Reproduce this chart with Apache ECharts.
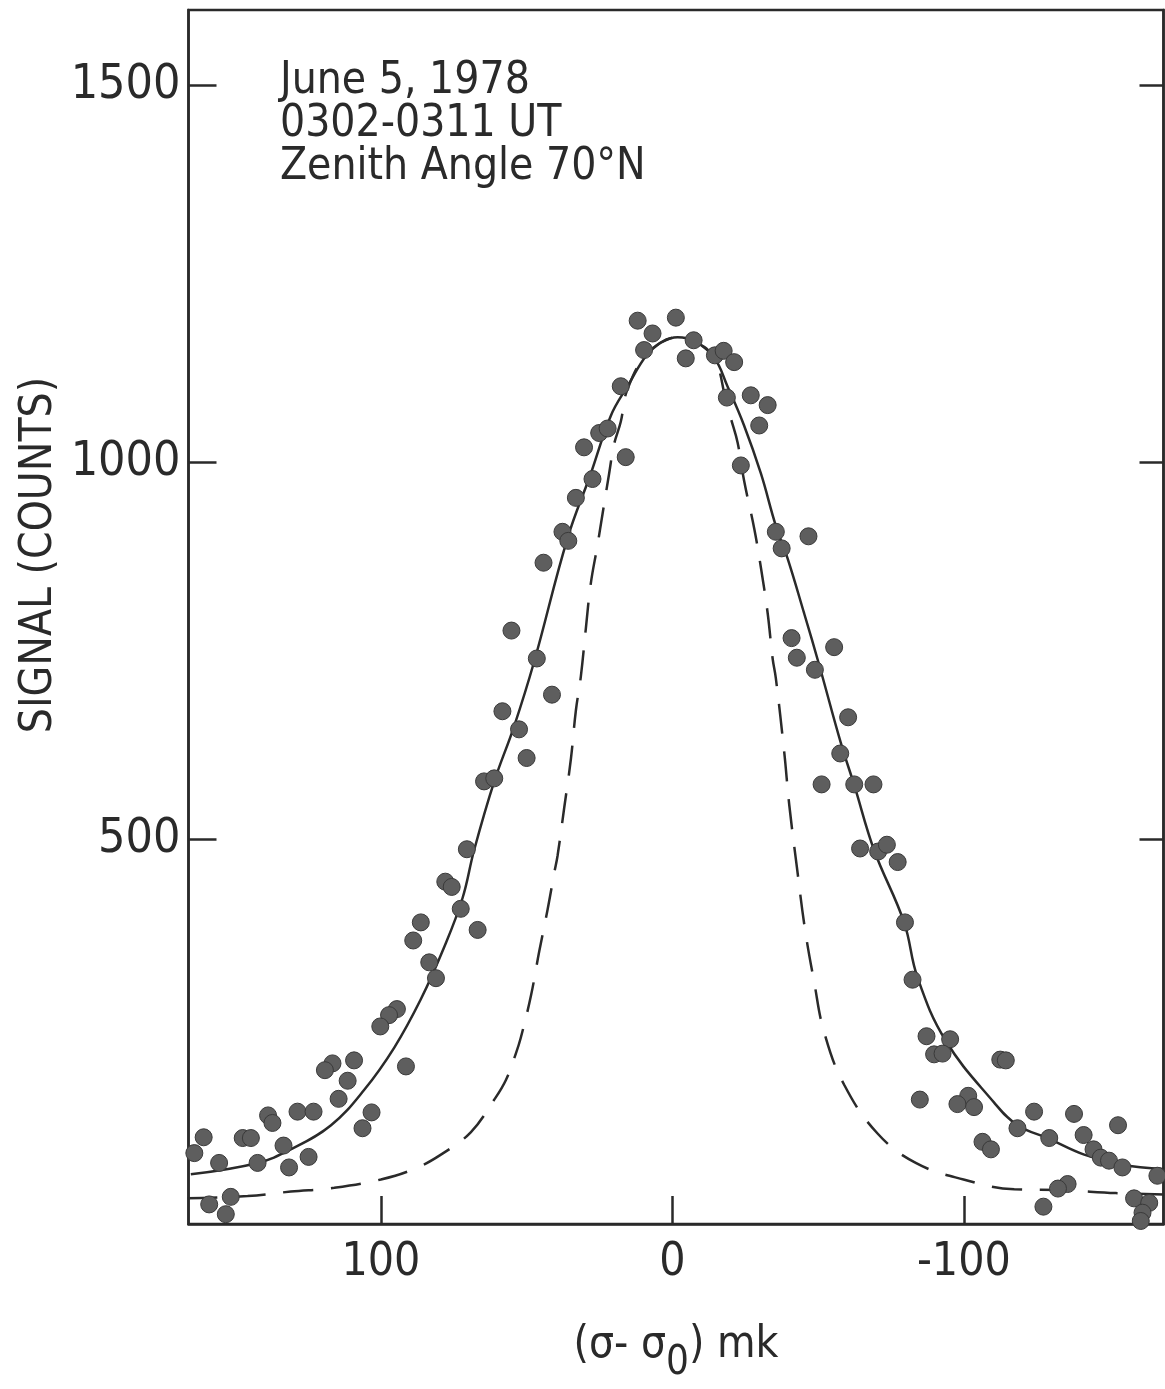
<!DOCTYPE html>
<html>
<head>
<meta charset="utf-8">
<script src="https://cdn.jsdelivr.net/npm/echarts@6/dist/echarts.min.js"></script>
<style>
  html, body { margin: 0; padding: 0; background: #fff; }
  #chart { width: 1165px; height: 1389px; }
</style>
</head>
<body>
<div id="chart"></div>
<script>
// observed counts (dots)
const obsX = [11.9, 6.8, -1.2, 9.7, 17.7, 25.1, 22.2, 30.3, 16.0, 27.4, 33.1, 37.7, 35.7, 44.2, 55.2, 46.5,
  -7.3, -4.6, -14.6, -17.6, -21.2, -26.9, -32.7, -29.8, -23.5, -18.7, -35.5, -37.5, -46.7, -40.9, -42.7, -55.5, -48.9,
  41.3, 58.3, 52.6, 50.0, 64.6, 61.1, 70.5, 77.9, 75.7, 72.6, 86.3, 66.8, 88.9, 83.4, 81.1, 94.5, 97.2, 100.2,
  109.2, 116.6, 119.2, 91.4, 111.4, 114.5, 128.6, 123.1, 103.2, 106.3, 138.7, 137.2, 160.8, 147.4, 144.6, 164.0,
  133.4, 124.8, 142.3, 155.5, 131.5, 151.5, 158.9, 153.2,
  -77.3, -79.8, -82.4, -87.2, -95.3, -89.8, -92.7, -112.5, -114.4, -84.9, -101.5, -97.8, -103.5, -124.1, -137.8,
  -152.9, -118.4, -129.3, -141.1, -106.4, -109.3, -144.5, -147.0, -149.8, -154.4, -166.4, -135.6, -132.3, -127.3,
  -158.4, -163.6, -161.3, -160.7, -60.3, -57.6, -51.2, -62.4, -69.0, -64.4, -70.6, -73.6];
const obsY = [1188, 1171, 1192, 1149, 1101, 1039, 1045, 1020, 1007, 978, 953, 908, 896, 867, 777, 740,
  1162, 1138, 1142, 1148, 1133, 1089, 1076, 1049, 996, 1086, 908, 886, 902, 767, 741, 755, 725,
  692, 670, 646, 608, 577, 581, 487, 444, 437, 408, 390, 380, 366, 337, 316, 275, 267, 252,
  207, 203, 194, 199, 180, 156, 139, 139, 138, 117, 134, 124, 105, 104, 104, 84,
  94, 79, 71, 71, 65, 26, 16, 3,
  470, 390, 314, 239, 235, 215, 216, 208, 207, 155, 160, 149, 145, 139, 136,
  121, 117, 104, 108, 99, 89, 89, 78, 74, 65, 54, 43, 37, 13,
  24, 18, 5, -6, 662, 614, 573, 573, 573, 488, 484, 493];

// fitted profile (solid)
const fitX = [165.2, 142.3, 130.9, 117.1, 105.7, 95.4, 86.3, 78.3, 72.0, 68.0, 61.1, 54.3, 47.4, 36.0, 28.0, 21.1,
  15.4, 8.5, 3.9, -1.8, -7.5, -14.3, -18.9, -24.6, -30.4, -35.5, -39.5, -45.2, -50.4, -57.8, -62.4, -69.2,
  -79.5, -84.1, -93.8, -110.4, -118.4, -128.7, -141.3, -153.9, -168.7];
const fitY = [56, 71, 89, 121, 168, 224, 288, 357, 422, 486, 577, 650, 736, 899, 985, 1062,
  1101, 1144, 1159, 1166, 1161, 1139, 1101, 1049, 985, 916, 873, 800, 731, 628, 572, 486,
  390, 317, 233, 151, 121, 104, 82, 69, 63];

// instrument profile (dashed)
const instX = [166.3, 145.7, 130.9, 116.0, 100.0, 88.6, 79.4, 69.1, 61.1, 57.1, 53.7, 52.0, 48.5, 45.7, 42.8,
  40.5, 39.4, 37.1, 34.8, 33.1, 31.4, 29.7, 28.0, 25.7, 23.9, 21.7, 20.0, 17.7, 15.4, 8.5, -1.8, -7.5, -14.3,
  -18.4, -20.1, -22.4, -24.6, -28.1, -30.4, -32.7, -34.4, -35.5, -38.4, -40.1, -42.7, -45.5, -48.6, -52.1,
  -58.9, -70.4, -83.5, -99.9, -117.3, -133.3, -152.1, -168.7];
const instY = [24, 27, 33, 38, 49, 63, 82, 112, 155, 181, 216, 237, 293, 351, 407,
  456, 478, 542, 607, 671, 716, 779, 839, 890, 933, 985, 1024, 1054, 1097, 1144, 1166, 1161, 1139,
  1082, 1058, 1026, 976, 912, 860, 800, 740, 714, 615, 546, 464, 381, 312, 244,
  175, 110, 71, 49, 36, 35, 31, 29];

const xTicks = [100, 0, -100];
const yTicks = [500, 1000, 1500];

const pairs = (xs, ys) => xs.map((x, i) => [x, ys[i]]);
const FONT = "'Liberation Sans Narrow', 'DejaVu Sans Condensed', 'Liberation Sans', sans-serif";
const INK = '#2a2a2a';
const plain = v => String(v);

const chart = echarts.init(document.getElementById('chart'));
const option = {
  backgroundColor: '#fff',
  animation: false,
  grid: { left: 188.5, top: 10, width: 975, height: 1248, show: true, borderColor: INK, borderWidth: 2.5 },
  xAxis: [
    {
      type: 'value', inverse: true, min: -168.5, max: 166, position: 'bottom',
      axisLine: { onZero: false, lineStyle: { color: INK, width: 2.5 } },
      axisTick: { inside: true, length: 28, customValues: xTicks, lineStyle: { color: INK, width: 2.5 } },
      axisLabel: { customValues: xTicks, formatter: plain, margin: 16, fontSize: 46, fontFamily: FONT, color: INK },
      splitLine: { show: false },
      name: '(σ- σ{sub|0}) mk',
      nameLocation: 'middle', nameGap: 84,
      nameTextStyle: {
        fontSize: 44, fontFamily: FONT, color: INK,
        rich: { sub: { fontSize: 40, fontFamily: FONT, color: INK, verticalAlign: 'top', padding: [36, 0, 0, 0] } }
      }
    }
  ],
  yAxis: [
    {
      type: 'value', min: -10, max: 1600, position: 'left',
      axisLine: { show: true, onZero: false, lineStyle: { color: INK, width: 2.5 } },
      axisTick: { inside: true, length: 28, customValues: yTicks, lineStyle: { color: INK, width: 2.5 } },
      axisLabel: { customValues: yTicks, formatter: plain, margin: 8, fontSize: 48, fontFamily: FONT, color: INK },
      splitLine: { show: false }
    },
    {
      type: 'value', min: -10, max: 1600, position: 'right',
      axisLine: { show: true, onZero: false, lineStyle: { color: INK, width: 2.5 } },
      axisTick: { inside: true, length: 24, customValues: yTicks, lineStyle: { color: INK, width: 2.5 } },
      axisLabel: { show: false },
      splitLine: { show: false }
    }
  ],
  graphic: [
    {
      type: 'text', x: 40, y: 555, rotation: Math.PI / 2,
      style: { text: 'SIGNAL (COUNTS)', font: '44px ' + FONT, fill: INK, align: 'center', verticalAlign: 'middle' }
    },
    {
      type: 'text', x: 280, y: 60,
      style: { text: 'June 5, 1978\n0302-0311 UT\nZenith Angle 70°N', font: '44px ' + FONT, fill: INK, lineHeight: 43 }
    }
  ],
  series: [
    {
      type: 'line', data: pairs(fitX, fitY), smooth: 0.4, symbol: 'none',
      lineStyle: { color: INK, width: 2.5 }, z: 2
    },
    {
      type: 'line', data: pairs(instX, instY), smooth: 0.4, symbol: 'none',
      lineStyle: { color: INK, width: 2.5, type: [30, 18] }, z: 2
    },
    {
      type: 'scatter', data: pairs(obsX, obsY), symbolSize: 17,
      itemStyle: { color: '#5e5e5e', borderColor: '#3a3a3a', borderWidth: 1, opacity: 1 }, z: 3
    }
  ]
};
chart.setOption(option);
</script>
</body>
</html>
